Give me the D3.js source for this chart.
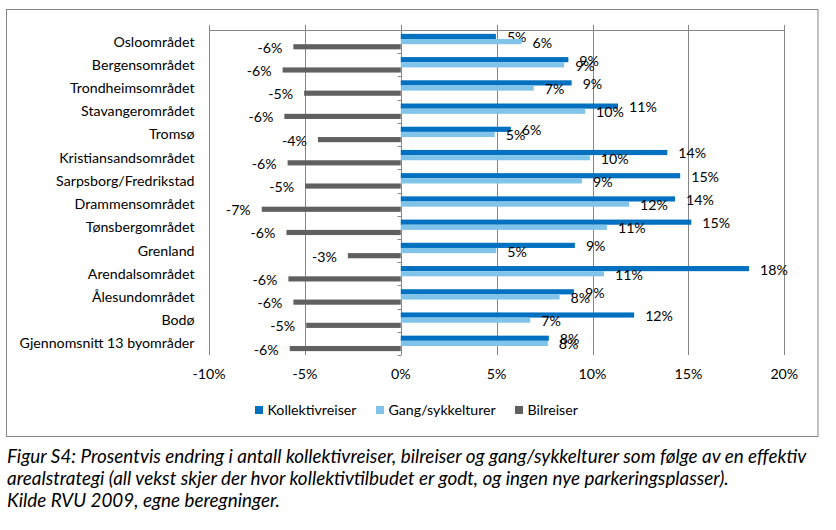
<!DOCTYPE html>
<html>
<head>
<meta charset="utf-8">
<script src="https://cdn.jsdelivr.net/npm/d3@7"></script>
<style>
  html, body { margin: 0; padding: 0; background: #fff; }
  svg { display: block; }
</style>
</head>
<body>
<svg id="chart" width="836" height="530"></svg>
<script>
const categories = ["Osloområdet","Bergensområdet","Trondheimsområdet","Stavangerområdet","Tromsø","Kristiansandsområdet","Sarpsborg/Fredrikstad","Drammensområdet","Tønsbergområdet","Grenland","Arendalsområdet","Ålesundområdet","Bodø","Gjennomsnitt 13 byområder"];
const kollektivreiser = [4.96, 8.74, 8.91, 11.33, 5.74, 13.9, 14.57, 14.3, 15.15, 9.08, 18.16, 9.03, 12.17, 7.72];
const gangSykkel      = [6.3, 8.52, 6.93, 9.61, 4.9, 9.86, 9.45, 11.9, 10.75, 4.98, 10.6, 8.28, 6.75, 7.67];
const bilreiser       = [-5.6, -6.16, -5.04, -6.07, -4.32, -5.9, -4.99, -7.25, -5.96, -2.76, -5.86, -5.6, -4.93, -5.79];
const seriesNames = ["Kollektivreiser", "Gang/sykkelturer", "Bilreiser"];
const seriesColors = ["#0070C0", "#80C4EA", "#606060"];
const xTicks = [-10, -5, 0, 5, 10, 15, 20];
const captionLines = [
  "Figur S4: Prosentvis endring i antall kollektivreiser, bilreiser og gang/sykkelturer som følge av en effektiv",
  "arealstrategi (all vekst skjer der hvor kollektivtilbudet er godt, og ingen nye parkeringsplasser).",
  "Kilde RVU 2009, egne beregninger."
];

const svg = d3.select("#chart");
const FONT = "Lato, 'Open Sans', sans-serif";

// fit font size so a reference string reaches a target width (mimic Calibri metrics)
function fitSize(str, targetW, style) {
  const t = svg.append("text").attr("font-family", FONT).attr("font-size", 20)
    .attr("font-style", style || "normal").text(str);
  const w = t.node().getComputedTextLength();
  t.remove();
  return 20 * targetW / w;
}
const fs = fitSize("Gjennomsnitt 13 byområder", 175);
const capFs = fitSize(captionLines[0], 800, "italic");

// plain hyphen-minus percent labels, as in the reference
const pct = v => String(Math.round(v)) + "%";

// frame
svg.append("rect").attr("x", 6.5).attr("y", 9.5).attr("width", 811.5).attr("height", 427)
  .attr("fill", "none").attr("stroke", "#868686").attr("stroke-width", 1);

const x = d3.scaleLinear().domain([-10, 20]).range([209, 784.3]);
const y = d3.scaleBand().domain(categories).range([30, 355]).paddingInner(0).paddingOuter(0);
const bw = y.bandwidth() / 4.5;      // gap width 150%
const off = bw * 0.75;

const grid = "#868686";
// vertical gridlines (with small upward ticks above the top axis)
svg.append("g").selectAll("line").data(xTicks).join("line")
  .attr("x1", d => Math.round(x(d)) + 0.5).attr("x2", d => Math.round(x(d)) + 0.5)
  .attr("y1", 25).attr("y2", 355)
  .attr("stroke", grid).attr("stroke-width", 1);
// top value axis line
svg.append("line").attr("x1", x(-10)).attr("x2", x(20)).attr("y1", 30.5).attr("y2", 30.5)
  .attr("stroke", grid);

// category axis at zero with ticks
const zx = Math.round(x(0)) + 0.5;
svg.append("line").attr("x1", zx).attr("x2", zx).attr("y1", 30).attr("y2", 355).attr("stroke", grid);
const bounds = categories.map(c => y(c)).concat([355]);
svg.append("g").selectAll("line").data(bounds).join("line")
  .attr("x1", zx - 4).attr("x2", zx).attr("y1", d => Math.round(d) + 0.5).attr("y2", d => Math.round(d) + 0.5)
  .attr("stroke", grid);

// bars
const seriesData = [kollektivreiser, gangSykkel, bilreiser];
seriesData.forEach((vals, si) => {
  const g = svg.append("g");
  g.selectAll("rect").data(vals).join("rect")
    .attr("x", d => x(Math.min(0, d)))
    .attr("width", d => Math.abs(x(d) - x(0)))
    .attr("y", (d, i) => y(categories[i]) + off + si * bw)
    .attr("height", bw)
    .attr("fill", seriesColors[si]);
  g.selectAll("text").data(vals).join("text")
    .attr("x", d => d >= 0 ? x(d) + 11 : x(d) - 11)
    .attr("y", (d, i) => y(categories[i]) + off + si * bw + bw / 2 + 1)
    .attr("dy", "0.35em")
    .attr("text-anchor", d => d >= 0 ? "start" : "end")
    .attr("font-family", FONT).attr("font-size", fs).attr("fill", "#000")
    .text(d => pct(d));
});

// category labels
svg.append("g").selectAll("text").data(categories).join("text")
  .attr("x", 194.5).attr("y", d => y(d) + y.bandwidth() / 2)
  .attr("dy", "0.35em").attr("text-anchor", "end")
  .attr("font-family", FONT).attr("font-size", fs).attr("fill", "#000")
  .text(d => d);

// x tick labels (bottom)
svg.append("g").selectAll("text").data(xTicks).join("text")
  .attr("x", d => x(d)).attr("y", 374).attr("dy", "0.35em").attr("text-anchor", "middle")
  .attr("font-family", FONT).attr("font-size", fs).attr("fill", "#000")
  .text(d => d + "%");

// legend
const legX = [255, 376, 515];
const lg = svg.append("g");
seriesNames.forEach((n, i) => {
  lg.append("rect").attr("x", legX[i]).attr("y", 406).attr("width", 8).attr("height", 8).attr("fill", seriesColors[i]);
  lg.append("text").attr("x", legX[i] + 12.5).attr("y", 410.5).attr("dy", "0.35em")
    .attr("font-family", FONT).attr("font-size", fs).attr("fill", "#000").text(n);
});

// caption
svg.append("g").selectAll("text").data(captionLines).join("text")
  .attr("x", 7).attr("y", (d, i) => 463 + i * 22)
  .attr("font-family", FONT).attr("font-size", capFs).attr("font-style", "italic").attr("fill", "#000")
  .text(d => d);
</script>
</body>
</html>
